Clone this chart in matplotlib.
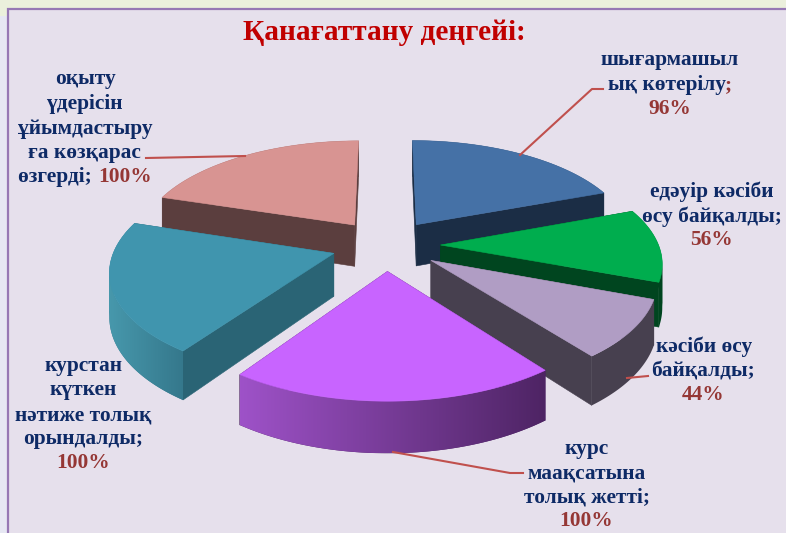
import numpy as np
import matplotlib
matplotlib.use('Agg')
import matplotlib.pyplot as plt
from matplotlib.patches import Polygon, Rectangle, PathPatch
from matplotlib.path import Path
from matplotlib.colors import to_rgb

plt.rcParams['font.family'] = ['Liberation Serif', 'DejaVu Serif']

title = 'Қанағаттану деңгейі:'
values = [96, 56, 44, 100, 100, 100]
# text lines of each label, the value is added after the last one
label_lines = [
    ['шығармашыл', 'ық көтерілу;'],
    ['едәуір кәсіби', 'өсу байқалды;'],
    ['кәсіби өсу', 'байқалды;'],
    ['курс', 'маақсатына', 'толық жетті;'],
    ['курстан', 'күткен', 'нәтиже толық', 'орындалды;'],
    ['оқыту', 'үдерісін', 'ұйымдастыру', 'ға көзқарас', 'өзгерді;'],
]
top_colors = ['#4571A6', '#00AD4E', '#B09DC4', '#C864FF', '#4095AE', '#D89492']
side_colors = ['#1B2D45', '#00451F', '#47404F', '#4E2464', '#2A6475', '#5B3E3E']
rim_left = ['#1B2D45', '#00451F', '#47404F', '#9E52C8', '#4798AC', '#5B3E3E']
rim_right = ['#1B2D45', '#00451F', '#47404F', '#4E2464', '#35788C', '#5B3E3E']
draw_order = [0, 5, 4, 1, 2, 3]

navy = '#0E2A66'
dark_red = '#953735'
line_col = '#C0504D'

# perspective of the pie
cx, cy = 386, 245
ax_x, ax_y = 218, 102
persp = 0.147
explode = 0.25
depth = 42.5


def project(u, v, low=False):
    w = 1 + persp * v
    sx = cx + ax_x * u / w
    sy = cy - ax_y * v / w
    if low:
        sy = sy + depth / w
    return sx, sy


def band_path(upper, lower):
    # the wall as many quads of one winding, so its folds stay filled
    quads = []
    for j in range(len(upper) - 1):
        q = np.array([upper[j], upper[j + 1], lower[j + 1], lower[j], upper[j]])
        area = np.sum(q[:-1, 0] * q[1:, 1] - q[1:, 0] * q[:-1, 1])
        if area < 0:
            q = q[::-1]
        quads.append(Path(q, closed=True))
    return Path.make_compound_path(*quads)


fig = plt.figure(figsize=(7.86, 5.33), dpi=100)
ax = fig.add_axes([0, 0, 1, 1])
ax.set_xlim(0, 786)
ax.set_ylim(533, 0)
ax.axis('off')

# slide background
ax.add_patch(Rectangle((0, 0), 786, 533, fc='#E6E7F3', ec='none', zorder=0))
ax.add_patch(Rectangle((0, 0), 786, 16, fc='#EBF0DC', ec='none', zorder=0))
ax.add_patch(Rectangle((7.5, 8.5), 800, 540, fc='#E6E0EC', ec='#9678B4', lw=1.6, zorder=0))

angles = np.cumsum([0] + values) / sum(values) * 2 * np.pi

z = 1
for i in draw_order:
    a0, a1 = angles[i], angles[i + 1]
    mid = (a0 + a1) / 2
    ox = explode * np.sin(mid)
    oy = explode * np.cos(mid)
    t = np.linspace(a0, a1, 120)
    us = ox + np.sin(t)
    vs = oy + np.cos(t)

    # two flat cut walls
    for a in [a0, a1]:
        pts = [project(ox, oy), project(ox + np.sin(a), oy + np.cos(a)),
               project(ox + np.sin(a), oy + np.cos(a), True), project(ox, oy, True)]
        ax.add_patch(Polygon(pts, fc=side_colors[i], ec=side_colors[i], lw=0.4, zorder=z))
        z += 1

    # round outer wall with a left to right shade
    upper = [project(u, v) for u, v in zip(us, vs)]
    lower = [project(u, v, True) for u, v in zip(us, vs)]
    wall = np.array(upper + lower)
    wall_patch = PathPatch(band_path(upper, lower), fc=rim_right[i], ec='none', zorder=z)
    ax.add_patch(wall_patch)
    z += 1
    if rim_left[i] != rim_right[i]:
        c0 = np.array(to_rgb(rim_left[i]))
        c1 = np.array(to_rgb(rim_right[i]))
        shade = np.linspace(0, 1, 256)[None, :, None]
        grad = c0 + (c1 - c0) * shade
        im = ax.imshow(grad, extent=(wall[:, 0].min(), wall[:, 0].max(), wall[:, 1].max(), wall[:, 1].min()),
                       aspect='auto', zorder=z, interpolation='bilinear')
        im.set_clip_path(wall_patch)
        z += 1

    # top face
    pts = [project(ox, oy)] + upper
    ax.add_patch(Polygon(pts, fc=top_colors[i], ec=top_colors[i], lw=0.4, zorder=z))
    z += 1

ax.set_xlim(0, 786)
ax.set_ylim(533, 0)

# leader lines
ax.plot([603, 592, 520], [89, 89, 155], color=line_col, lw=1.5, zorder=z)
ax.plot([627, 648], [378, 376], color=line_col, lw=1.5, zorder=z)
ax.plot([393, 510, 523], [452, 473, 473], color=line_col, lw=1.5, zorder=z)
ax.plot([146, 245], [158, 156], color=line_col, lw=1.5, zorder=z)

# labels
fs = 15.4
renderer = fig.canvas.get_renderer()


def mixed_line(xc, y, parts):
    # one centred line made of parts with their own colours
    widths = []
    for s, c in parts:
        tmp = ax.text(0, 0, s + '.', fontsize=fs, fontweight='bold')
        dot = ax.text(0, 0, '.', fontsize=fs, fontweight='bold')
        widths.append(tmp.get_window_extent(renderer).width - dot.get_window_extent(renderer).width + 1)
        tmp.remove()
        dot.remove()
    x = xc - sum(widths) / 2
    for (s, c), w in zip(parts, widths):
        ax.text(x, y, s, color=c, fontsize=fs, fontweight='bold', ha='left', va='center', zorder=z + 1)
        x += w


label_x = [670, 712, 704, 587, 84, 85]
label_y = [
    [60, 85, 109],
    [192, 217, 240],
    [347, 371, 395],
    [449, 473, 498, 521],
    [366, 390, 415, 439, 463],
    [79, 104, 129, 153, 177],
]
for i, lines in enumerate(label_lines):
    pct = str(values[i]) + '%'
    ys = label_y[i]
    for k, s in enumerate(lines):
        if i == 0 and s.endswith(';'):
            mixed_line(label_x[i], ys[k], [(s[:-1], navy), (';', dark_red)])
        elif len(ys) == len(lines) and k == len(lines) - 1:
            mixed_line(label_x[i], ys[k], [(s + ' ', navy), (pct, dark_red)])
        else:
            mixed_line(label_x[i], ys[k], [(s, navy)])
    if len(ys) > len(lines):
        mixed_line(label_x[i], ys[-1], [(pct, dark_red)])

ax.text(384, 32, title, color='#C00000', fontsize=21.1, fontweight='bold', ha='center', va='center', zorder=z + 1)

fig.savefig('out.png', dpi=100)
